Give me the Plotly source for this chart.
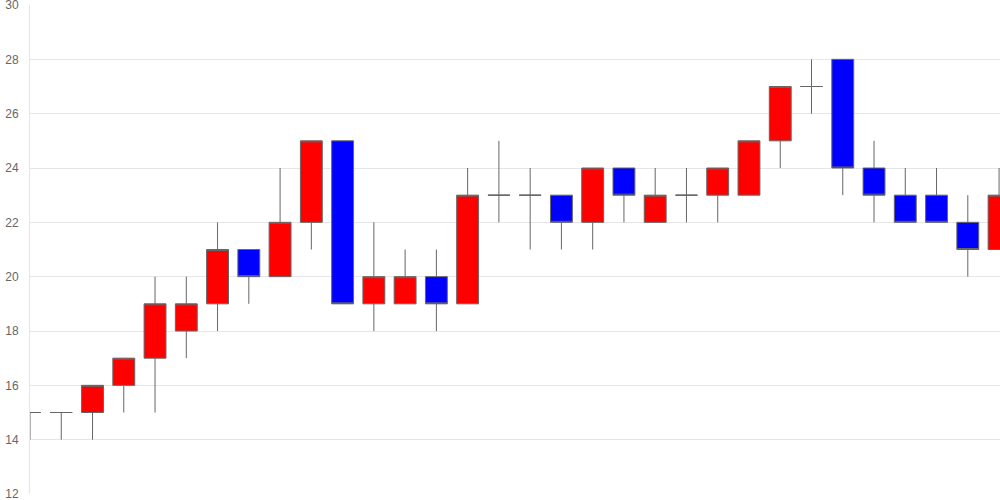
import plotly.graph_objects as go

idx = list(range(32))
opens  = [15, 15, 15, 16, 17, 18, 19, 21, 20, 22, 25, 19, 19, 20, 19, 23, 23, 23, 22, 24, 22, 23, 23, 23, 25, 27, 28, 24, 23, 23, 22, 21]
highs  = [15, 15, 16, 17, 20, 20, 22, 21, 24, 25, 25, 22, 21, 21, 24, 25, 24, 23, 24, 24, 24, 24, 24, 25, 27, 28, 28, 25, 24, 24, 23, 24]
lows   = [14, 14, 14, 15, 15, 17, 18, 19, 20, 21, 19, 18, 19, 18, 19, 22, 21, 21, 21, 22, 22, 22, 22, 23, 24, 26, 23, 22, 22, 22, 20, 21]
closes = [15, 15, 16, 17, 19, 19, 21, 20, 22, 25, 19, 20, 20, 19, 23, 23, 23, 22, 24, 23, 23, 23, 24, 25, 27, 27, 24, 23, 22, 22, 21, 23]
y_ticks = [12, 14, 16, 18, 20, 22, 24, 26, 28, 30]

fig = go.Figure(go.Candlestick(
    x=idx, open=opens, high=highs, low=lows, close=closes,
    increasing=dict(fillcolor="#ff0000", line=dict(color="#666666", width=1)),
    decreasing=dict(fillcolor="#0000ff", line=dict(color="#666666", width=1)),
    whiskerwidth=0,
    hoverinfo="skip",
))

fig.update_layout(
    width=1000, height=500,
    margin=dict(l=30, r=0, t=5, b=6, autoexpand=False),
    paper_bgcolor="white", plot_bgcolor="white",
    showlegend=False,
    boxgap=0.3, boxgroupgap=0,
    font=dict(family="Liberation Sans, Arial, sans-serif", size=12, color="#666666"),
    xaxis=dict(range=[0, 31.03], autorange=False, showgrid=False, showticklabels=False,
               zeroline=False, rangeslider=dict(visible=False), showline=False, ticks=""),
    yaxis=dict(range=[12, 30], autorange=False, tickvals=y_ticks, showgrid=True,
               gridcolor="#e6e6e6", zeroline=False, showline=True, linecolor="#e6e6e6",
               linewidth=1, ticks="outside", ticklen=8, tickcolor="rgba(0,0,0,0)",
               automargin=False, ticklabeloverflow="allow",
               tickfont=dict(size=12, color="#666666")),
)

fig.write_html("out.html", config={"displayModeBar": False},
               post_script="document.body.style.margin='0';document.body.style.overflow='hidden';")
